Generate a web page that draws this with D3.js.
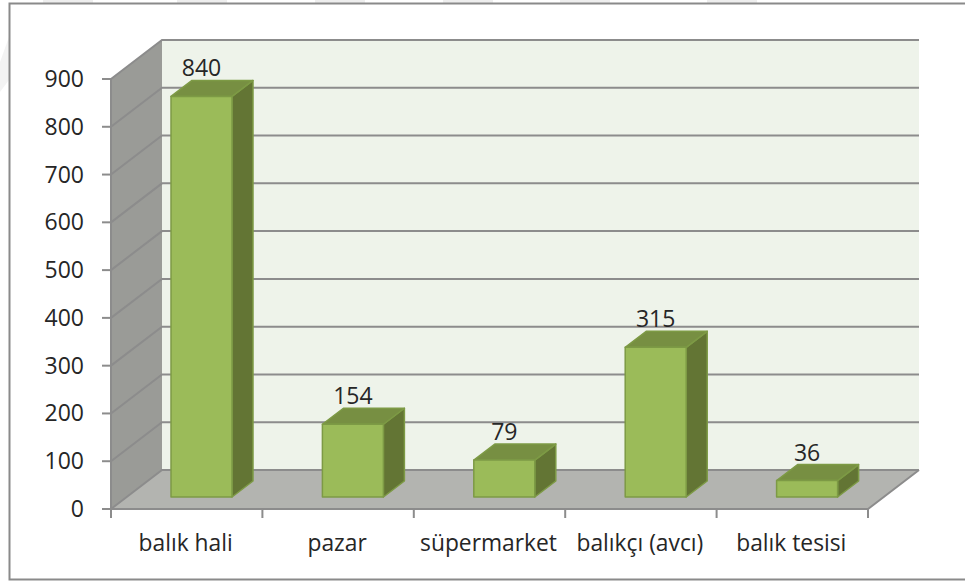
<!DOCTYPE html>
<html><head><meta charset="utf-8">
<script src="https://cdn.jsdelivr.net/npm/d3@7"></script>
<style>html,body{margin:0;padding:0;background:#fff}svg{display:block}
text{font-family:"Open Sans",sans-serif;fill:#262626}</style></head>
<body><svg id="c" width="965" height="582"></svg>
<script>
const categories=["balık hali","pazar","süpermarket","balıkçı (avcı)","balık tesisi"];
const values=[840,154,79,315,36];
const valueTicks=[0,100,200,300,400,500,600,700,800,900];

const svg=d3.select("#c");
const depth={x:51,y:-39}, barDepth={x:21,y:-16};
const x=d3.scaleBand().domain(categories).range([111,868]).paddingInner(0);
const y=d3.scaleLinear().domain([0,900]).range([509,79]);
const barW=61, barPad=60, floorLift=12, topLift=11.2;
const pts=a=>a.map(p=>p.join(",")).join(" ");
const line=d3.line();

// faint background streaks outside the frame
svg.append("polygon").attr("points",pts([[0,62],[9,37],[9,80],[0,92]])).attr("fill","#f3f3f3");
svg.append("g").selectAll("rect").data([43,177,315,443,560,707]).join("rect")
 .attr("x",d=>d).attr("y",0).attr("width",50).attr("height",3).attr("fill","#eeeeee");
// frame
svg.append("path").attr("d","M966,3.5H9.5V579.5H966").attr("fill","none").attr("stroke","#8a8a8a").attr("stroke-width",2);

const [x0,x1]=x.range(), y0=y(0), yT=y(900);
// walls
svg.append("polygon").attr("points",pts([[x0+depth.x,yT+depth.y],[x1+depth.x,yT+depth.y],[x1+depth.x,y0+depth.y],[x0+depth.x,y0+depth.y]])).attr("fill","#eef3ea");
svg.append("polygon").attr("points",pts([[x0,yT],[x0+depth.x,yT+depth.y],[x0+depth.x,y0+depth.y],[x0,y0]])).attr("fill","#9a9b97");
svg.append("polygon").attr("points",pts([[x0,y0],[x1,y0],[x1+depth.x,y0+depth.y],[x0+depth.x,y0+depth.y]])).attr("fill","#b3b4b0");
// grid
svg.append("g").selectAll("path").data(valueTicks).join("path")
 .attr("d",d=>line([[x0,y(d)],[x0+depth.x,y(d)+depth.y],[x1+depth.x,y(d)+depth.y]]))
 .attr("fill","none").attr("stroke","#8c8c8c").attr("stroke-width",2);
// axes
const ax=svg.append("g").attr("stroke","#8c8c8c").attr("stroke-width",2).attr("fill","none");
ax.append("path").attr("d",`M${x0},${yT}V${y0}H${x1}L${x1+depth.x},${y0+depth.y}`);
ax.selectAll(".yt").data(valueTicks).join("line").attr("class","yt").attr("x1",x0-9).attr("x2",x0).attr("y1",d=>y(d)).attr("y2",d=>y(d));
ax.selectAll(".xt").data(categories.concat(["_end"])).join("line").attr("class","xt")
 .attr("x1",d=>d==="_end"?x1:x(d)).attr("x2",d=>d==="_end"?x1:x(d)).attr("y1",y0).attr("y2",y0+9);

// bars
const g=svg.append("g").selectAll("g").data(categories.map((c,i)=>({c,v:values[i]}))).join("g");
const fx=d=>x(d.c)+barPad, fb=y0-floorLift, ft=d=>y(d.v)-topLift;
const st={stroke:"#7d9a45","stroke-width":1.5,"stroke-linejoin":"round"};
function apply(s){for(const k in st)s.attr(k,st[k]);return s;}
apply(g.append("polygon").attr("points",d=>pts([[fx(d)+barW,ft(d)],[fx(d)+barW+barDepth.x,ft(d)+barDepth.y],[fx(d)+barW+barDepth.x,fb+barDepth.y],[fx(d)+barW,fb]])).attr("fill","#637534"));
apply(g.append("polygon").attr("points",d=>pts([[fx(d),ft(d)],[fx(d)+barDepth.x,ft(d)+barDepth.y],[fx(d)+barW+barDepth.x,ft(d)+barDepth.y],[fx(d)+barW,ft(d)]])).attr("fill","#778f42"));
apply(g.append("rect").attr("x",fx).attr("y",ft).attr("width",barW).attr("height",d=>fb-ft(d)).attr("fill","#9bbb59"));
g.append("text").attr("x",d=>fx(d)+barW/2).attr("y",d=>ft(d)-20).attr("text-anchor","middle").attr("font-size",23).text(d=>d.v);

// labels
svg.append("g").selectAll("text").data(valueTicks).join("text").attr("x",84).attr("y",d=>y(d)+8).attr("text-anchor","end").attr("font-size",23).text(d=>d);
svg.append("g").selectAll("text").data(categories).join("text").attr("x",d=>x(d)+x.bandwidth()/2-1).attr("y",551).attr("text-anchor","middle").attr("font-size",22.8).text(d=>d);
</script></body></html>
